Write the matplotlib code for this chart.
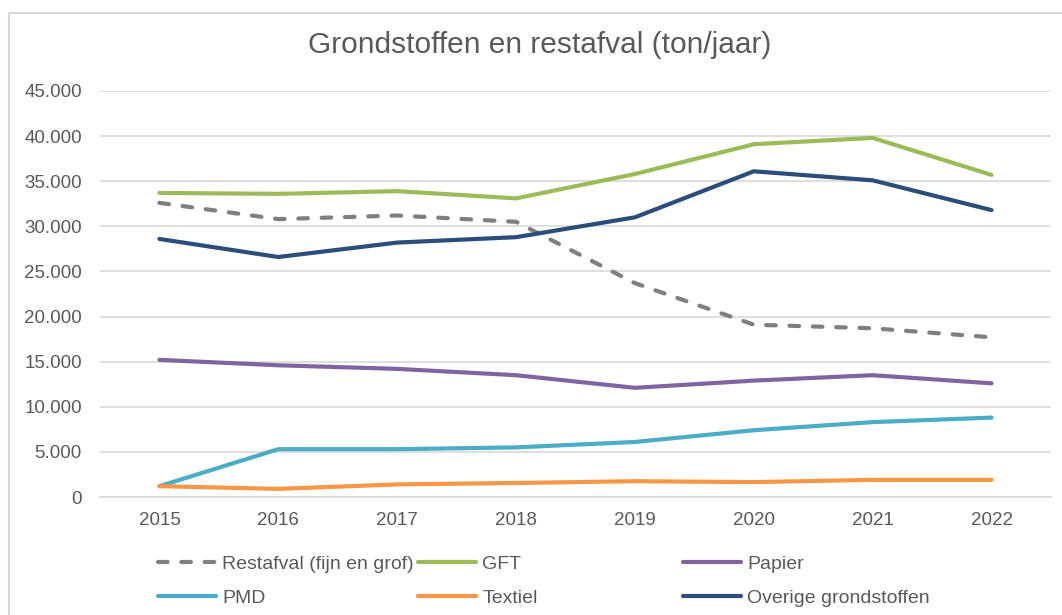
import matplotlib.pyplot as plt
import matplotlib.patches as patches
from matplotlib.ticker import FuncFormatter
import numpy as np

jaren = [2015, 2016, 2017, 2018, 2019, 2020, 2021, 2022]

restafval = [32600, 30800, 31200, 30500, 23700, 19100, 18700, 17700]
gft = [33700, 33600, 33900, 33100, 35800, 39100, 39800, 35700]
papier = [15200, 14600, 14200, 13500, 12100, 12900, 13500, 12600]
pmd = [1200, 5300, 5300, 5500, 6100, 7400, 8300, 8800]
textiel = [1200, 900, 1400, 1550, 1750, 1650, 1900, 1900]
overige = [28600, 26600, 28200, 28800, 31000, 36100, 35100, 31800]

plt.rcParams["font.family"] = ["Liberation Sans", "DejaVu Sans"]
tekst = "#595959"

fig = plt.figure(figsize=(10.62, 6.15), dpi=100)
ax = fig.add_axes([100 / 1062, 1 - 497 / 615, 951 / 1062, 406 / 615])

# rand om de grafiek
fig.patches.append(patches.Rectangle((9 / 1062, -0.1), 1.2, 1 - 13 / 615 + 0.1,
                                     transform=fig.transFigure, fill=False,
                                     edgecolor="#D9D9D9", lw=1.5, clip_on=False))

lw = 3
l1, = ax.plot(jaren, restafval, color="#7F7F7F", lw=lw, dashes=(2.3, 3.3),
              dash_capstyle="round", solid_capstyle="round", label="Restafval (fijn en grof)")
l2, = ax.plot(jaren, gft, color="#9BBB59", lw=lw, solid_capstyle="round", label="GFT")
l3, = ax.plot(jaren, papier, color="#8064A2", lw=lw, solid_capstyle="round", label="Papier")
l4, = ax.plot(jaren, pmd, color="#4BACC6", lw=lw, solid_capstyle="round", label="PMD")
l5, = ax.plot(jaren, textiel, color="#F79646", lw=lw, solid_capstyle="round", label="Textiel")
l6, = ax.plot(jaren, overige, color="#2A4D7A", lw=lw, solid_capstyle="round",
              label="Overige grondstoffen")

ax.set_xlim(2014.5, 2022.5)
ax.set_ylim(0, 45000)
ax.set_yticks(np.arange(0, 45001, 5000))
ax.set_xticks(jaren)
ax.yaxis.set_major_formatter(FuncFormatter(lambda v, p: f"{int(v):,}".replace(",", ".")))
ax.grid(axis="y", color="#D9D9D9", lw=1.2)
ax.set_axisbelow(True)
for s in ["top", "right", "left"]:
    ax.spines[s].set_visible(False)
ax.spines["bottom"].set_color("#D9D9D9")
ax.spines["bottom"].set_linewidth(1.2)
ax.tick_params(length=0, labelsize=13.5, labelcolor=tekst)
ax.tick_params(axis="y", pad=13)
ax.tick_params(axis="x", pad=11)

fig.text(540 / 1062, 1 - 45 / 615, "Grondstoffen en restafval (ton/jaar)",
         ha="center", va="center", fontsize=21.5, color=tekst)

# legenda in drie kolommen met vaste breedte
kolommen = [([l1, l4], 158), ([l2, l5], 418), ([l3, l6], 683)]
for lijnen, x in kolommen:
    leg = fig.legend(handles=lijnen, loc="upper left",
                     bbox_to_anchor=(x / 1062, 1 - 555 / 615), frameon=False,
                     fontsize=14, handlelength=3.0, handletextpad=0.3,
                     labelspacing=0.85, borderaxespad=0, borderpad=0)
    for t in leg.get_texts():
        t.set_color(tekst)

fig.savefig("out.png", dpi=100)
